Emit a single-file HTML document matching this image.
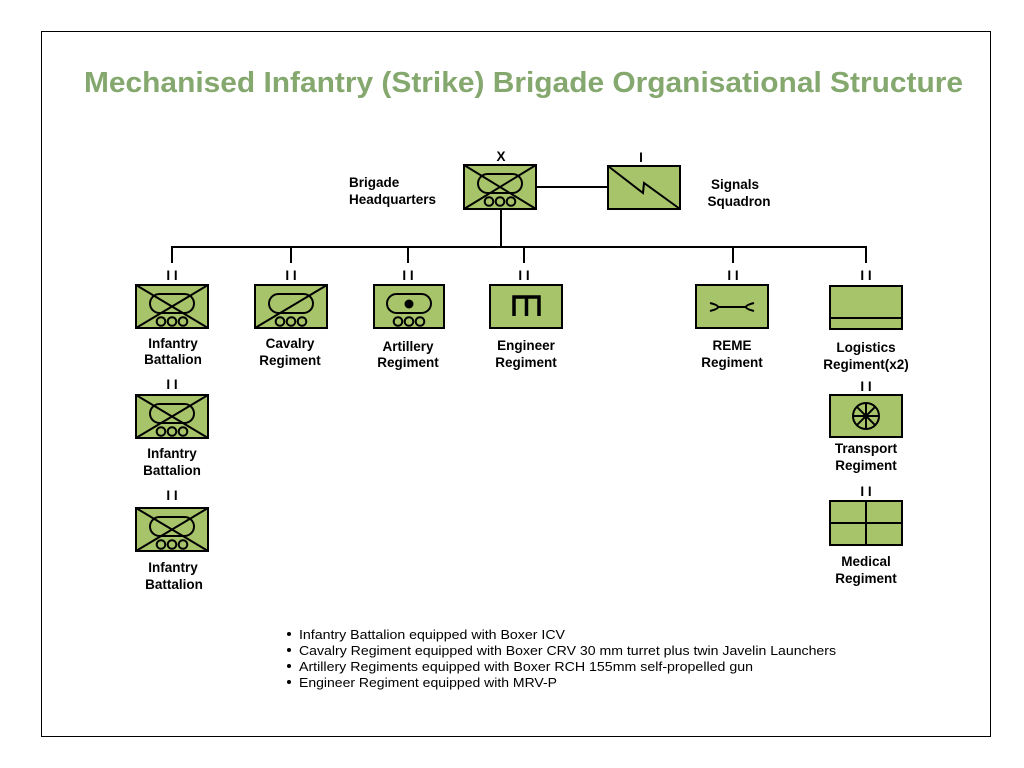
<!DOCTYPE html>
<html><head><meta charset="utf-8"><style>
html,body{margin:0;padding:0;background:#fff;}
svg{display:block;font-family:"Liberation Sans",Arial,sans-serif;}
.b{font-weight:bold;font-size:13.5px;fill:#000;text-anchor:middle;}
.bx{fill:#a7c46a;stroke:#000;stroke-width:2;}
.ln{stroke:#000;stroke-width:2;fill:none;}
</style></head><body>
<svg width="1024" height="768" viewBox="0 0 1024 768">
<defs>
<g id="veh">
<rect x="14" y="9" width="44" height="19" rx="9.5" class="ln"/>
<circle cx="25" cy="36.5" r="4.3" class="ln"/><circle cx="36" cy="36.5" r="4.3" class="ln"/><circle cx="47" cy="36.5" r="4.3" class="ln"/>
</g>
</defs>
<rect x="41.5" y="31.5" width="949" height="705" fill="#fff" stroke="#000" stroke-width="1"/>
<text x="84" y="92" font-size="29" font-weight="bold" fill="#84a86e" textLength="879" lengthAdjust="spacingAndGlyphs">Mechanised Infantry (Strike) Brigade Organisational Structure</text>

<path class="ln" d="M536 187H608 M501 209V247 M171 247H867 M172 247V263 M291 247V263 M408 247V263 M524 247V263 M733 247V263 M866 247V263"/>

<text x="501" y="161" class="b">X</text>
<g transform="translate(464,165)"><rect class="bx" width="72" height="44"/><path class="ln" d="M0 0L72 44M0 44L72 0"/><use href="#veh"/></g>
<text x="349" y="187" class="b" style="text-anchor:start">Brigade</text><text x="349" y="204" class="b" style="text-anchor:start">Headquarters</text>
<text x="641" y="162" class="b">I</text>
<g transform="translate(608,166)"><rect class="bx" width="72" height="43"/><path class="ln" d="M0 0L35 27L36 17L72 43"/></g>
<text x="735" y="189" class="b">Signals</text><text x="739" y="206" class="b">Squadron</text>

<g class="b">
<text x="172" y="280">I I</text><text x="291" y="280">I I</text><text x="408" y="280">I I</text><text x="524" y="280">I I</text><text x="733" y="280">I I</text><text x="866" y="280">I I</text>
<text x="172" y="389">I I</text><text x="172" y="500">I I</text><text x="866" y="391">I I</text><text x="866" y="496">I I</text>
</g>

<g transform="translate(136,285)"><rect class="bx" width="72" height="43"/><path class="ln" d="M0 0L72 43M0 43L72 0"/><use href="#veh"/></g>
<text x="173" y="348" class="b">Infantry</text><text x="173" y="364" class="b">Battalion</text>
<g transform="translate(136,395)"><rect class="bx" width="72" height="43"/><path class="ln" d="M0 0L72 43M0 43L72 0"/><use href="#veh"/></g>
<text x="172" y="458" class="b">Infantry</text><text x="172" y="475" class="b">Battalion</text>
<g transform="translate(136,508)"><rect class="bx" width="72" height="43"/><path class="ln" d="M0 0L72 43M0 43L72 0"/><use href="#veh"/></g>
<text x="173" y="572" class="b">Infantry</text><text x="174" y="589" class="b">Battalion</text>

<g transform="translate(255,285)"><rect class="bx" width="72" height="43"/><path class="ln" d="M0 43L72 0"/><use href="#veh"/></g>
<text x="290" y="348" class="b">Cavalry</text><text x="290" y="365" class="b">Regiment</text>
<g transform="translate(374,285)"><rect class="bx" width="70" height="43"/><use href="#veh" transform="translate(-1,0)"/><circle cx="35" cy="19" r="4.5" fill="#000"/></g>
<text x="408" y="351" class="b">Artillery</text><text x="408" y="367" class="b">Regiment</text>
<g transform="translate(490,285)"><rect class="bx" width="72" height="43"/><path d="M24 31V12H49V31M36.5 12V31" stroke="#000" stroke-width="3.5" fill="none"/></g>
<text x="526" y="350" class="b">Engineer</text><text x="526" y="367" class="b">Regiment</text>
<g transform="translate(696,285)"><rect class="bx" width="72" height="43"/><path class="ln" d="M14 18Q22 20 22 22Q22 24 14 26M22 22H50M58 18Q50 20 50 22Q50 24 58 26"/></g>
<text x="732" y="350" class="b">REME</text><text x="732" y="367" class="b">Regiment</text>
<g transform="translate(830,286)"><rect class="bx" width="72" height="43"/><path class="ln" d="M0 32H72"/></g>
<text x="866" y="352" class="b">Logistics</text><text x="866" y="369" class="b">Regiment(x2)</text>
<g transform="translate(830,395)"><rect class="bx" width="72" height="42"/><circle cx="36" cy="21" r="13" class="ln"/><path class="ln" d="M36 8V34M23 21H49M26.8 11.8L45.2 30.2M26.8 30.2L45.2 11.8" stroke-width="1.5"/></g>
<text x="866" y="453" class="b">Transport</text><text x="866" y="470" class="b">Regiment</text>
<g transform="translate(830,501)"><rect class="bx" width="72" height="44"/><path class="ln" d="M0 22H72M36 0V44"/></g>
<text x="866" y="566" class="b">Medical</text><text x="866" y="583" class="b">Regiment</text>

<g font-size="13" fill="#000">
<circle cx="289" cy="634" r="2"/><text x="299" y="639" textLength="266" lengthAdjust="spacingAndGlyphs">Infantry Battalion equipped with Boxer ICV</text>
<circle cx="289" cy="650" r="2"/><text x="299" y="655" textLength="537" lengthAdjust="spacingAndGlyphs">Cavalry Regiment equipped with Boxer CRV 30 mm turret plus twin Javelin Launchers</text>
<circle cx="289" cy="666" r="2"/><text x="299" y="671" textLength="454" lengthAdjust="spacingAndGlyphs">Artillery Regiments equipped with Boxer RCH 155mm self-propelled gun</text>
<circle cx="289" cy="682" r="2"/><text x="299" y="687" textLength="258" lengthAdjust="spacingAndGlyphs">Engineer Regiment equipped with MRV-P</text>
</g>
</svg>
</body></html>
